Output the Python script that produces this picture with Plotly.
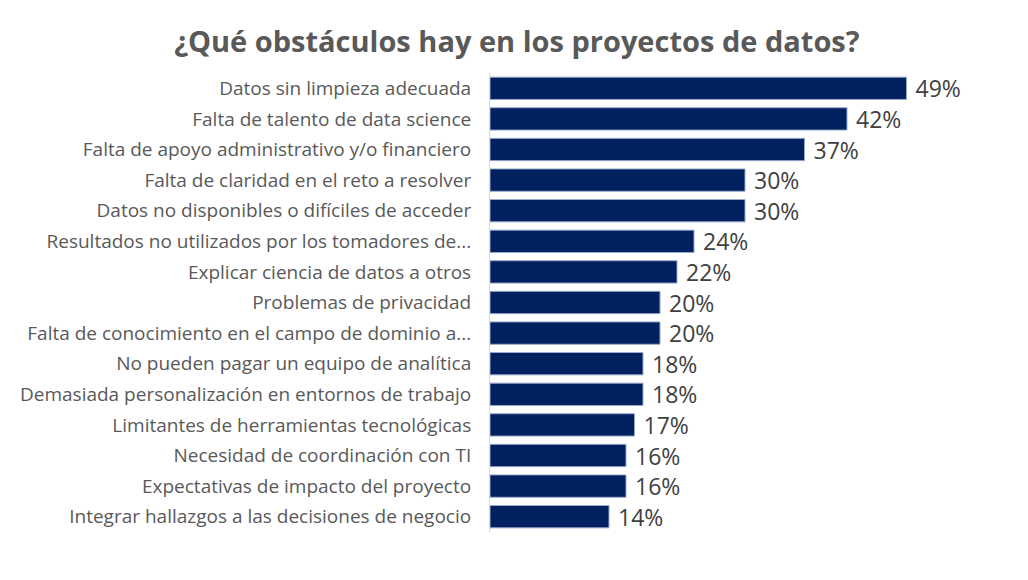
import plotly.graph_objects as go

# obstacles, top to bottom as in the picture
obstaculos = [
    "Datos sin limpieza adecuada",
    "Falta de talento de data science",
    "Falta de apoyo administrativo y/o financiero",
    "Falta de claridad en el reto a resolver",
    "Datos no disponibles o difíciles de acceder",
    "Resultados no utilizados por los tomadores de...",
    "Explicar ciencia de datos a otros",
    "Problemas de privacidad",
    "Falta de conocimiento en el campo de dominio a...",
    "No pueden pagar un equipo de analítica",
    "Demasiada personalización en entornos de trabajo",
    "Limitantes de herramientas tecnológicas",
    "Necesidad de coordinación con TI",
    "Expectativas de impacto del proyecto",
    "Integrar hallazgos a las decisiones de negocio",
]
porcentajes = [0.49, 0.42, 0.37, 0.30, 0.30, 0.24, 0.22, 0.20, 0.20, 0.18, 0.18, 0.17, 0.16, 0.16, 0.14]

fig = go.Figure()
fig.add_trace(go.Bar(
    x=porcentajes,
    y=obstaculos,
    orientation="h",
    marker=dict(color="#002060", line=dict(color="#9aaacc", width=1)),
    text=[f" {p:.0%}" for p in porcentajes],
    textposition="outside",
    constraintext="none",
    textfont=dict(size=23, color="#404040", family="Open Sans"),
    cliponaxis=False,
    showlegend=False,
))

fig.update_layout(
    width=1028, height=580,
    paper_bgcolor="white", plot_bgcolor="white",
    margin=dict(l=480, r=36, t=65, b=56),
    bargap=0.27,
    title=dict(
        text="<b>¿Qué obstáculos hay en los proyectos de datos?</b>",
        x=0.495, xanchor="center", y=0.941, yanchor="middle",
        font=dict(size=29, color="#595959", family="Open Sans"),
    ),
    font=dict(family="Open Sans", color="#595959"),
)
fig.update_xaxes(range=[0, 0.6], visible=False)
fig.update_yaxes(
    autorange="reversed",
    showline=True, linecolor="#d9d9d9", linewidth=1,
    ticks="", ticklabelstandoff=14,
    tickfont=dict(size=19, color="#595959", family="Open Sans"),
    showgrid=False,
)

fig.write_html("out.html")
